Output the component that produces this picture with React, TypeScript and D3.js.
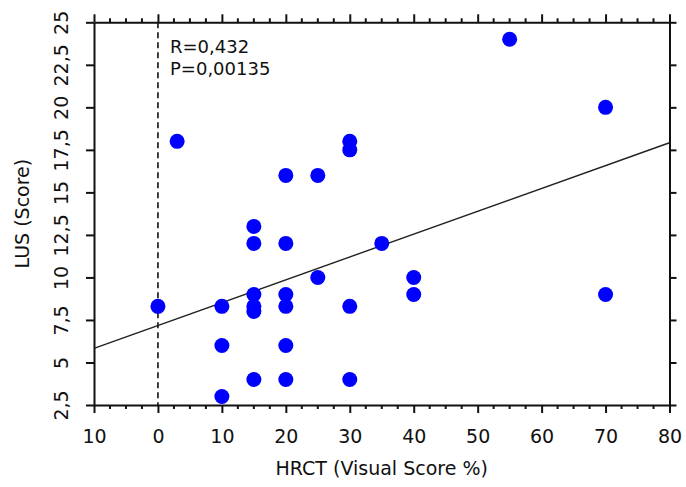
import { useEffect, useRef } from 'react';
import * as d3 from 'd3';

// HRCT visual score (%) vs LUS score
const hrct = [0, 3, 10, 10, 10, 15, 15, 15, 15, 15, 15, 20, 20, 20, 20, 20, 20, 25, 25, 30, 30, 30, 30, 35, 40, 40, 55, 70, 70];
const lus = [8.3, 18, 8.3, 6, 3, 13, 12, 9, 8.3, 8, 4, 16, 12, 9, 8.3, 6, 4, 16, 10, 18, 17.5, 8.3, 4, 12, 10, 9, 24, 20, 9];

// regression line end points
const fitX = [-10, 80];
const fitY = [5.83, 17.92];

const xTicks = [-10, 0, 10, 20, 30, 40, 50, 60, 70, 80];
const xTickLabels = ['10', '0', '10', '20', '30', '40', '50', '60', '70', '80'];
const yTicks = [2.5, 5, 7.5, 10, 12.5, 15, 17.5, 20, 22.5, 25];
const yTickLabels = ['2,5', '5', '7,5', '10', '12,5', '15', '17,5', '20', '22,5', '25'];

const statsLines = ['R=0,432', 'P=0,00135'];

export default function App() {
    const svgRef = useRef<SVGSVGElement>(null);

    useEffect(() => {
        const svg = d3.select(svgRef.current);
        svg.selectAll('*').remove();

        const W = 686;
        const H = 487;
        const left = 94, right = 669.5, top = 22.3, bottom = 405;
        const font = 'DejaVu Sans, sans-serif';
        const ink = '#111';

        svg.attr('width', W).attr('height', H);

        const x = d3.scaleLinear().domain([-10, 80]).range([left, right]);
        const y = d3.scaleLinear().domain([2.5, 25]).range([bottom, top]);

        const minor = d3.range(-10, 80.01, 2.5).filter((v) => !xTicks.includes(v));

        // bottom axis
        const bx = svg.append('g').attr('transform', `translate(0,${bottom})`);
        bx.call(d3.axisBottom(x).tickValues(xTicks).tickSize(8).tickFormat((_, i) => xTickLabels[i]).tickSizeOuter(0));
        bx.selectAll('.tick text').attr('dy', null).attr('y', 38).style('font-family', font).style('font-size', '19px').attr('fill', ink);
        bx.selectAll('line').attr('stroke', ink).attr('stroke-width', 2);
        bx.select('.domain').attr('stroke', ink).attr('stroke-width', 2);
        bx.selectAll('.minor').data(minor).enter().append('line')
            .attr('x1', (d) => x(d)).attr('x2', (d) => x(d)).attr('y1', 0).attr('y2', 4)
            .attr('stroke', ink).attr('stroke-width', 2);

        // top axis
        const tx = svg.append('g').attr('transform', `translate(0,${top})`);
        tx.call(d3.axisTop(x).tickValues(xTicks).tickSize(8).tickFormat(() => '').tickSizeOuter(0));
        tx.selectAll('line').attr('stroke', ink).attr('stroke-width', 2);
        tx.select('.domain').attr('stroke', ink).attr('stroke-width', 2);
        tx.selectAll('.minor').data(minor).enter().append('line')
            .attr('x1', (d) => x(d)).attr('x2', (d) => x(d)).attr('y1', 0).attr('y2', -4)
            .attr('stroke', ink).attr('stroke-width', 2);

        // left axis
        const ly = svg.append('g').attr('transform', `translate(${left},0)`);
        ly.call(d3.axisLeft(y).tickValues(yTicks).tickSize(8).tickFormat((_, i) => yTickLabels[i]).tickSizeOuter(0));
        ly.selectAll('line').attr('stroke', ink).attr('stroke-width', 2);
        ly.select('.domain').attr('stroke', ink).attr('stroke-width', 2);
        ly.selectAll('.tick text')
            .attr('x', null).attr('dy', null)
            .attr('transform', 'translate(-26,0) rotate(-90)')
            .attr('text-anchor', 'middle')
            .style('font-family', font).style('font-size', '19px').attr('fill', ink);

        // right axis
        const ry = svg.append('g').attr('transform', `translate(${right},0)`);
        ry.call(d3.axisRight(y).tickValues(yTicks).tickSize(7).tickFormat(() => '').tickSizeOuter(0));
        ry.selectAll('line').attr('stroke', ink).attr('stroke-width', 2);
        ry.select('.domain').attr('stroke', ink).attr('stroke-width', 2);

        // zero reference line
        svg.append('line')
            .attr('x1', x(0)).attr('x2', x(0)).attr('y1', top).attr('y2', bottom)
            .attr('stroke', ink).attr('stroke-width', 1.6).attr('stroke-dasharray', '6,4');

        // regression line
        svg.append('line')
            .attr('x1', x(fitX[0])).attr('y1', y(fitY[0]))
            .attr('x2', x(fitX[1])).attr('y2', y(fitY[1]))
            .attr('stroke', '#222').attr('stroke-width', 1.4);

        // points
        svg.append('g').selectAll('circle').data(hrct).enter().append('circle')
            .attr('cx', (d) => x(d))
            .attr('cy', (_, i) => y(lus[i]))
            .attr('r', 7.5)
            .attr('fill', '#0000ff');

        // stats
        svg.append('g').selectAll('text').data(statsLines).enter().append('text')
            .attr('x', 170).attr('y', (_, i) => 53 + i * 22)
            .style('font-family', font).style('font-size', '18px').attr('fill', ink)
            .text((d) => d);

        // axis titles
        svg.append('text')
            .attr('x', (left + right) / 2).attr('y', 475)
            .attr('text-anchor', 'middle')
            .style('font-family', font).style('font-size', '19px').attr('fill', ink)
            .text('HRCT (Visual Score %)');

        svg.append('text')
            .attr('transform', `translate(29,${(top + bottom) / 2}) rotate(-90)`)
            .attr('text-anchor', 'middle')
            .style('font-family', font).style('font-size', '19px').attr('fill', ink)
            .text('LUS (Score)');
    }, []);

    return (
        <div style={{ position: 'absolute', left: 0, top: 0, width: 686, height: 487, background: '#fff' }}>
            <svg ref={svgRef} style={{ display: 'block' }}></svg>
        </div>
    );
}
